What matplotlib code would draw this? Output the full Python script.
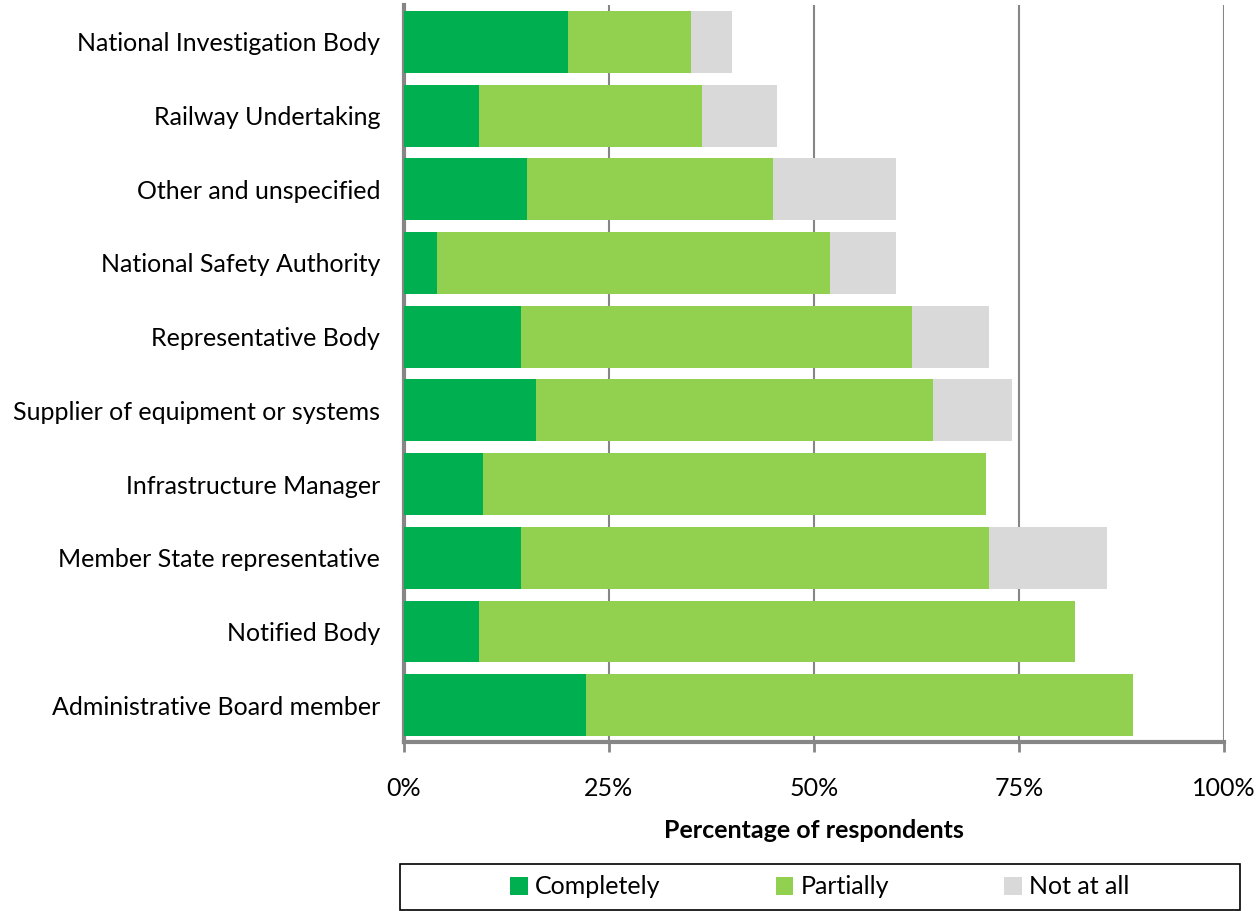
import matplotlib
matplotlib.use("Agg")
import matplotlib.pyplot as plt
from matplotlib.patches import Rectangle
import numpy as np

plt.rcParams["font.family"] = ["Lato", "DejaVu Sans"]

# categories listed bottom to top
categories = [
    "Administrative Board member",
    "Notified Body",
    "Member State representative",
    "Infrastructure Manager",
    "Supplier of equipment or systems",
    "Representative Body",
    "National Safety Authority",
    "Other and unspecified",
    "Railway Undertaking",
    "National Investigation Body",
]
completely = [22.2, 9.1, 14.3, 9.7, 16.1, 14.3, 4.0, 15.0, 9.1, 20.0]
partially = [66.7, 72.7, 57.1, 61.3, 48.4, 47.6, 48.0, 30.0, 27.3, 15.0]
not_at_all = [0.0, 0.0, 14.3, 0.0, 9.7, 9.5, 8.0, 15.0, 9.1, 5.0]

c_comp = "#00B050"
c_part = "#92D050"
c_not = "#D9D9D9"

fig = plt.figure(figsize=(12.58, 9.11), dpi=100)
ax = fig.add_axes([0.3211, 0.1855, 0.6519, 0.809])

y = np.arange(len(categories))
comp = np.array(completely)
part = np.array(partially)
nota = np.array(not_at_all)
h = 0.84
ax.barh(y, comp, height=h, color=c_comp, label="Completely", zorder=3)
ax.barh(y, part, left=comp, height=h, color=c_part, label="Partially", zorder=3)
ax.barh(y, nota, left=comp + part, height=h, color=c_not, label="Not at all", zorder=3)

ax.set_xlim(0, 100)
ax.set_ylim(-0.5, len(categories) - 0.5)
ax.set_xticks([0, 25, 50, 75, 100])
ax.set_xticklabels(["0%", "25%", "50%", "75%", "100%"], fontsize=18)
ax.set_yticks(y)
ax.set_yticklabels(categories, fontsize=18)
ax.tick_params(axis="y", length=0, pad=17)
ax.tick_params(axis="x", length=7, width=2, color="#868686", pad=18, direction="out")
ax.xaxis.grid(True, color="#868686", linewidth=1.5, zorder=0)

for s in ["top", "right"]:
    ax.spines[s].set_visible(False)
for s in ["left", "bottom"]:
    ax.spines[s].set_color("#868686")
    ax.spines[s].set_linewidth(3)

ax.set_xlabel("Percentage of respondents", fontsize=18, fontweight="bold", labelpad=14)

# legend box across the bottom
fig.patches.append(Rectangle((400 / 1258, 1 - 910 / 911), 840 / 1258, 46 / 911,
                             transform=fig.transFigure, fill=False,
                             edgecolor="black", linewidth=1.2))
handles, labels = ax.get_legend_handles_labels()
leg = fig.legend(handles, labels, loc="center", ncol=3, fontsize=18,
                 bbox_to_anchor=(820 / 1258, 1 - 887 / 911),
                 frameon=False, handlelength=0.7, handleheight=0.7,
                 handletextpad=0.3, columnspacing=4.6)

fig.savefig("out.png", dpi=100)
